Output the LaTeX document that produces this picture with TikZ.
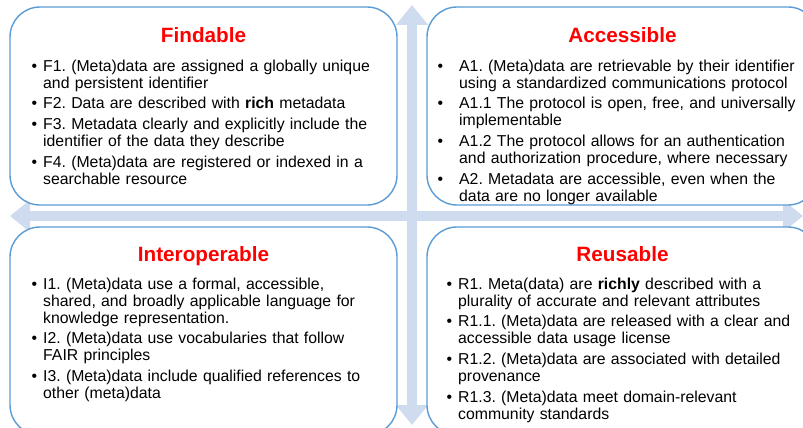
\documentclass[tikz,border=0pt]{standalone}
\usepackage{fontspec}
\setmainfont{Liberation Sans}
\usepackage{enumitem}
\usetikzlibrary{arrows.meta}
\definecolor{boxblue}{RGB}{91,155,213}
\definecolor{arrowblue}{RGB}{207,219,238}
\definecolor{titlered}{RGB}{255,0,0}
\setlist[itemize]{label=\textbullet, topsep=0pt, partopsep=0pt, parsep=0pt, itemsep=3.7pt, leftmargin=12pt, labelsep=6pt}
\frenchspacing

\begin{document}
\begin{tikzpicture}[x=1pt, y=-1pt,
  box/.style={draw=boxblue, line width=1.4pt, rounded corners=30pt, fill=white, inner sep=0pt},
  title/.style={text=titlered, font=\fontsize{20.7}{24}\selectfont\bfseries, anchor=base, inner sep=0pt},
  items/.style={anchor=north west, text width=375pt, align=left, inner sep=0pt, font=\fontsize{15.8}{17}\selectfont},
  bigarrow/.style={draw=arrowblue, line width=10pt, {Triangle[width=31pt,length=20pt]}-{Triangle[width=31pt,length=20pt]}}]
  \useasboundingbox (0,0) rectangle (803,428);
  \clip (0,0) rectangle (803,428);

  \coordinate (top) at (412,5);
  \coordinate (bot) at (412,425);
  \coordinate (lft) at (10,216);
  \coordinate (rgt) at (803,216);
  \draw[bigarrow] (top) -- (bot);
  \draw[bigarrow] (lft) -- (rgt);

  \node[box, minimum width=387pt, minimum height=198pt] (find) at (203.5,106) {};
  \node[box, minimum width=391pt, minimum height=198pt] (access) at (622.5,106) {};
  \node[box, minimum width=387pt, minimum height=208pt] (inter) at (203.5,331) {};
  \node[box, minimum width=391pt, minimum height=208pt] (reuse) at (622.5,331) {};

  \node[title] (findT) at (203.5,43) {Findable};
  \node[title] (accessT) at (622.5,43) {Accessible};
  \node[title] (interT) at (203.5,261) {Interoperable};
  \node[title] (reuseT) at (622.5,261) {Reusable};

  \node[items] (findL) at (31,54) {\begin{itemize}
    \item F1. (Meta)data are assigned a globally unique\\ and persistent identifier
    \item F2. Data are described with \textbf{rich} metadata
    \item F3. Metadata clearly and explicitly include the\\ identifier of the data they describe
    \item F4. (Meta)data are registered or indexed in a\\ searchable resource
  \end{itemize}};
  \node[items] (accessL) at (437,54) {\begin{itemize}[leftmargin=22pt, labelsep=16pt]
    \item A1. (Meta)data are retrievable by their identifier\\ using a standardized communications protocol
    \item A1.1 The protocol is open, free, and universally\\ implementable
    \item A1.2 The protocol allows for an authentication\\ and authorization procedure, where necessary
    \item A2. Metadata are accessible, even when the\\ data are no longer available
  \end{itemize}};
  \node[items] (interL) at (31,272) {\begin{itemize}
    \item I1. (Meta)data use a formal, accessible,\\ shared, and broadly applicable language for\\ knowledge representation.
    \item I2. (Meta)data use vocabularies that follow\\ FAIR principles
    \item I3. (Meta)data include qualified references to\\ other (meta)data
  \end{itemize}};
  \node[items] (reuseL) at (446,272) {\begin{itemize}
    \item R1. Meta(data) are \textbf{richly} described with a\\ plurality of accurate and relevant attributes
    \item R1.1. (Meta)data are released with a clear and\\ accessible data usage license
    \item R1.2. (Meta)data are associated with detailed\\ provenance
    \item R1.3. (Meta)data meet domain-relevant\\ community standards
  \end{itemize}};
\end{tikzpicture}
\end{document}
